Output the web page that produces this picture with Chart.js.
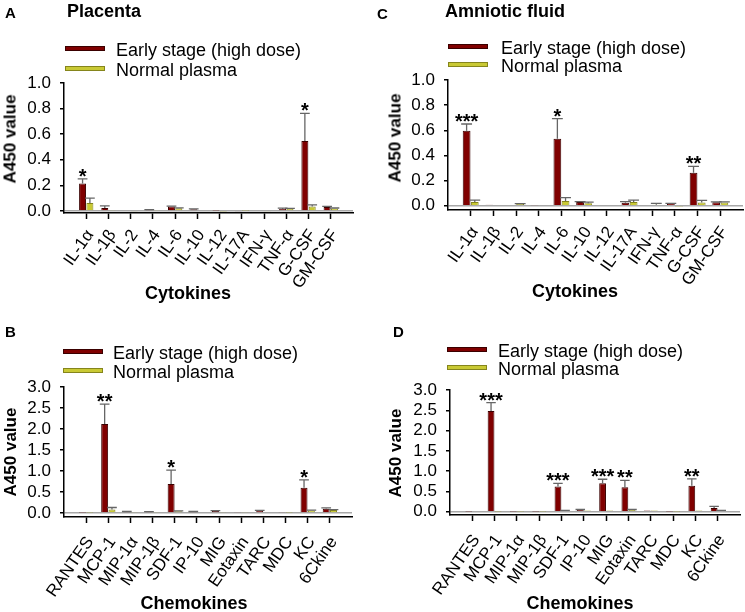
<!DOCTYPE html>
<html>
<head>
<meta charset="utf-8">
<script src="https://cdn.jsdelivr.net/npm/chart.js@4.4.1/dist/chart.umd.min.js"></script>
<style>
body { margin: 0; background: #fff; }
#wrap { position: relative; width: 745px; height: 612px; overflow: hidden; font-family: "Liberation Sans", Arial, sans-serif; }
.panel { position: absolute; }
.panel canvas { position: absolute; left: 0; top: 0; }
.txt { position: absolute; white-space: nowrap; line-height: 1; color: #000; }
.swatch { position: absolute; width: 40px; height: 5px; box-sizing: border-box; }
</style>
</head>
<body>
<div id="wrap"></div>
<script>
// categories
const cytokines = ["IL-1α", "IL-1β", "IL-2", "IL-4", "IL-6", "IL-10", "IL-12", "IL-17A", "IFN-γ", "TNF-α", "G-CSF", "GM-CSF"];
const chemokines = ["RANTES", "MCP-1", "MIP-1α", "MIP-1β", "SDF-1", "IP-10", "MIG", "Eotaxin", "TARC", "MDC", "KC", "6Ckine"];
const seriesNames = ["Early stage (high dose)", "Normal plasma"];

// y tick labels
const yTicksCyto = [0, 0.2, 0.4, 0.6, 0.8, 1.0];
const yTicksChemo = [0, 0.5, 1.0, 1.5, 2.0, 2.5, 3.0];

// A - placenta, cytokines
const placentaCytoEarly = [0.214, 0.023, 0.006, 0.008, 0.034, 0.013, 0.002, -0.005, 0.006, 0.016, 0.546, 0.031];
const placentaCytoEarlyErr = [0.036, 0.017, 0, 0.002, 0.003, 0.003, 0, 0, 0, 0.006, 0.216, 0.004];
const placentaCytoNormal = [0.063, 0.003, -0.005, 0.003, 0.021, 0.005, -0.003, 0.002, -0.004, 0.016, 0.034, 0.020];
const placentaCytoNormalErr = [0.037, 0, 0, 0, 0.003, 0, 0, 0, 0, 0.004, 0.013, 0.003];
const placentaCytoSig = ["*", "", "", "", "", "", "", "", "", "", "*", ""];

// C - amniotic fluid, cytokines
const amnioCytoEarly = [0.597, 0.008, 0.005, 0.003, 0.533, 0.029, 0.006, 0.024, 0.005, 0.016, 0.263, 0.027];
const amnioCytoEarlyErr = [0.053, 0, 0, 0, 0.159, 0.003, 0, 0.008, 0, 0.002, 0.05, 0.003];
const amnioCytoNormal = [0.03, 0.006, 0.015, 0.006, 0.037, 0.02, 0.005, 0.03, 0.008, -0.003, 0.025, 0.026];
const amnioCytoNormalErr = [0.015, 0, 0.002, 0, 0.027, 0.008, 0, 0.015, 0.01, 0, 0.017, 0.004];
const amnioCytoSig = ["***", "", "", "", "*", "", "", "", "", "", "**", ""];

// B - placenta, chemokines
const placentaChemoEarly = [0.005, 2.12, 0.03, 0.025, 0.69, 0.03, 0.045, 0.01, 0.05, 0.01, 0.60, 0.10];
const placentaChemoEarlyErr = [0, 0.47, 0.005, 0.005, 0.33, 0.005, 0.01, 0, 0.01, 0, 0.19, 0.02];
const placentaChemoNormal = [0.005, 0.08, 0.01, 0.01, 0.04, 0.02, 0.01, 0.01, 0.015, 0.005, 0.06, 0.07];
const placentaChemoNormalErr = [0, 0.05, 0, 0, 0.01, 0, 0, 0, 0, 0, 0.01, 0.01];
const placentaChemoSig = ["", "**", "", "", "*", "", "", "", "", "", "*", ""];

// D - amniotic fluid, chemokines
const amnioChemoEarly = [0.003, 2.48, 0.003, 0.005, 0.62, 0.05, 0.70, 0.60, 0.03, 0.005, 0.64, 0.09];
const amnioChemoEarlyErr = [0, 0.21, 0, 0, 0.08, 0.005, 0.10, 0.17, 0, 0, 0.17, 0.04];
const amnioChemoNormal = [0, 0.005, 0.003, 0.005, 0.03, 0.03, 0.03, 0.05, 0.03, 0.003, 0.03, 0.03];
const amnioChemoNormalErr = [0, 0, 0, 0, 0.005, 0, 0, 0.005, 0, 0, 0, 0.005];
const amnioChemoSig = ["", "***", "", "", "***", "", "***", "**", "", "", "**", ""];

const FONT = "'Liberation Sans', Arial, sans-serif";
const redFill = "#800000", redBorder = "#3a0000";
const yelFill = "#c9c934", yelBorder = "#85851c";

//draws the one-sided error bars and the stars
const errorBarPlugin = {
    id: "errorBars",
    afterDatasetsDraw(chart) {
        const ctx = chart.ctx;
        const ys = chart.scales.y;
        chart.data.datasets.forEach((ds, di) => {
            const meta = chart.getDatasetMeta(di);
            meta.data.forEach((bar, i) => {
                const v = ds.data[i].y;
                const e = ds.errors[i];
                let top = bar.y;
                if (e > 0) {
                    top = ys.getPixelForValue(v + e);
                    const half = bar.width * 0.7;
                    ctx.save();
                    ctx.strokeStyle = "#666";
                    ctx.lineWidth = 1.3;
                    ctx.beginPath();
                    ctx.moveTo(bar.x, bar.y);
                    ctx.lineTo(bar.x, top);
                    ctx.moveTo(bar.x - half, top);
                    ctx.lineTo(bar.x + half, top);
                    ctx.stroke();
                    ctx.restore();
                }
                if (ds.sig && ds.sig[i]) {
                    ctx.save();
                    ctx.fillStyle = "#000";
                    ctx.font = "bold 20px " + FONT;
                    ctx.textAlign = "center";
                    ctx.textBaseline = "alphabetic";
                    ctx.fillText(ds.sig[i], bar.x, top + 4);
                    ctx.restore();
                }
            });
        });
    }
};

function addText(parent, txt, x, y, size, bold, anchor, rotate) {
    var d = document.createElement("div");
    d.className = "txt";
    d.textContent = txt;
    d.style.left = x + "px";
    d.style.top = y + "px";
    d.style.fontSize = size + "px";
    d.style.fontWeight = bold ? "bold" : "normal";
    var tr = anchor === "left" ? "translate(0,-50%)" : "translate(-50%,-50%)";
    if (rotate) tr += " rotate(-90deg)";
    d.style.transform = tr;
    parent.appendChild(d);
}

function makePanel(p) {
    var wrap = document.getElementById("wrap");
    var div = document.createElement("div");
    div.className = "panel";
    div.style.left = p.left + "px";
    div.style.top = p.top + "px";
    div.style.width = p.w + "px";
    div.style.height = p.h + "px";
    wrap.appendChild(div);

    var canvas = document.createElement("canvas");
    canvas.width = p.w;
    canvas.height = p.h;
    div.appendChild(canvas);

    addText(div, p.letter, p.letterPos[0], p.letterPos[1], 15, true, "left");
    if (p.title) addText(div, p.title, p.titlePos[0], p.titlePos[1], 18, true, "left");
    addText(div, "A450 value", p.yTitlePos[0], p.yTitlePos[1], 17, true, "center", true);
    addText(div, p.xTitle, p.xTitlePos[0], p.xTitlePos[1], 18, true, "center");

    // legend
    var colors = [[redFill, redBorder], [yelFill, yelBorder]];
    for (var k = 0; k < seriesNames.length; k++) {
        var sw = document.createElement("div");
        sw.className = "swatch";
        sw.style.left = p.legend.swX + "px";
        sw.style.top = (p.legend.y[k] - 3) + "px";
        sw.style.background = colors[k][0];
        sw.style.border = "1px solid " + colors[k][1];
        div.appendChild(sw);
        addText(div, seriesNames[k], p.legend.txtX, p.legend.y[k] + 1, 18, false, "left");
    }

    var a = p.area;
    var cats = p.cats;

    new Chart(canvas.getContext("2d"), {
        type: "bar",
        data: {
            datasets: [{
                label: seriesNames[0],
                data: p.early.map((v, i) => ({ x: i + 1, y: v })),
                errors: p.earlyErr,
                sig: p.sig,
                backgroundColor: redFill,
                borderColor: redBorder,
                borderWidth: 1
            }, {
                label: seriesNames[1],
                data: p.normal.map((v, i) => ({ x: i + 1, y: v })),
                errors: p.normalErr,
                backgroundColor: yelFill,
                borderColor: yelBorder,
                borderWidth: 1
            }]
        },
        options: {
            responsive: false,
            animation: false,
            categoryPercentage: p.catPct,
            barPercentage: 0.95,
            layout: { padding: { left: 0, top: a.t, right: p.w - a.r, bottom: 0 } },
            plugins: { legend: { display: false }, tooltip: { enabled: false } },
            scales: {
                x: {
                    type: "linear",
                    min: 0,
                    max: 13,
                    offset: false,
                    afterBuildTicks: s => { s.ticks = cats.map((c, i) => ({ value: i + 1 })); },
                    afterFit: s => { s.height = p.h - a.b; },
                    border: { display: true, color: "#000", width: 1.5 },
                    grid: { offset: false, color: "transparent", tickColor: "#000", tickLength: 6, tickWidth: 1.5 },
                    ticks: {
                        autoSkip: false, maxRotation: 55, minRotation: 55, padding: p.labelPad, labelOffset: 4, color: "#000",
                        font: { family: FONT, size: 17 },
                        callback: v => cats[v - 1]
                    }
                },
                y: {
                    type: "linear",
                    min: p.yMin,
                    max: p.yMax,
                    afterBuildTicks: s => { s.ticks = p.yTicks.map(v => ({ value: v })); },
                    afterFit: s => { s.width = a.l; },
                    border: { display: true, color: "#000", width: 1.5 },
                    grid: {
                        color: c => (c.tick && c.tick.value === 0) ? "#a8a8a8" : "transparent",
                        lineWidth: 1.5, tickColor: "#000", tickLength: 4, tickWidth: 1.5
                    },
                    ticks: {
                        autoSkip: false, color: "#000", padding: 9,
                        font: { family: FONT, size: 17 },
                        callback: v => v.toFixed(1)
                    }
                }
            }
        },
        plugins: [errorBarPlugin]
    });
}

makePanel({
    left: 0, top: 0, w: 370, h: 300,
    area: { l: 64, t: 83, r: 353, b: 213 },
    yMin: -0.016, yMax: 1.0, yTicks: yTicksCyto, catPct: 0.66, labelPad: 7,
    cats: cytokines,
    early: placentaCytoEarly, earlyErr: placentaCytoEarlyErr,
    normal: placentaCytoNormal, normalErr: placentaCytoNormalErr, sig: placentaCytoSig,
    letter: "A", letterPos: [5, 12], title: "Placenta", titlePos: [67, 11],
    legend: { swX: 65, txtX: 116, y: [49, 69] },
    yTitlePos: [10, 139], xTitle: "Cytokines", xTitlePos: [188, 293]
});

makePanel({
    left: 370, top: 0, w: 375, h: 300,
    area: { l: 78, t: 80, r: 373, b: 210 },
    yMin: -0.034, yMax: 1.0, yTicks: yTicksCyto, catPct: 0.72, labelPad: 7,
    cats: cytokines,
    early: amnioCytoEarly, earlyErr: amnioCytoEarlyErr,
    normal: amnioCytoNormal, normalErr: amnioCytoNormalErr, sig: amnioCytoSig,
    letter: "C", letterPos: [7, 13], title: "Amniotic fluid", titlePos: [75, 11],
    legend: { swX: 78, txtX: 131, y: [47, 65] },
    yTitlePos: [25, 138], xTitle: "Cytokines", xTitlePos: [205, 291]
});

makePanel({
    left: 0, top: 300, w: 370, h: 312,
    area: { l: 64, t: 87, r: 352, b: 217 },
    yMin: -0.096, yMax: 3.0, yTicks: yTicksChemo, catPct: 0.66, labelPad: 10,
    cats: chemokines,
    early: placentaChemoEarly, earlyErr: placentaChemoEarlyErr,
    normal: placentaChemoNormal, normalErr: placentaChemoNormalErr, sig: placentaChemoSig,
    letter: "B", letterPos: [5, 31], title: "", titlePos: [0, 0],
    legend: { swX: 63, txtX: 113, y: [52, 71] },
    yTitlePos: [10, 152], xTitle: "Chemokines", xTitlePos: [194, 303]
});

makePanel({
    left: 370, top: 300, w: 375, h: 312,
    area: { l: 80, t: 90, r: 370, b: 215 },
    yMin: -0.081, yMax: 3.0, yTicks: yTicksChemo, catPct: 0.64, labelPad: 10,
    cats: chemokines,
    early: amnioChemoEarly, earlyErr: amnioChemoEarlyErr,
    normal: amnioChemoNormal, normalErr: amnioChemoNormalErr, sig: amnioChemoSig,
    letter: "D", letterPos: [23, 31], title: "", titlePos: [0, 0],
    legend: { swX: 77, txtX: 128, y: [50, 68] },
    yTitlePos: [25, 153], xTitle: "Chemokines", xTitlePos: [210, 303]
});
</script>
</body>
</html>
